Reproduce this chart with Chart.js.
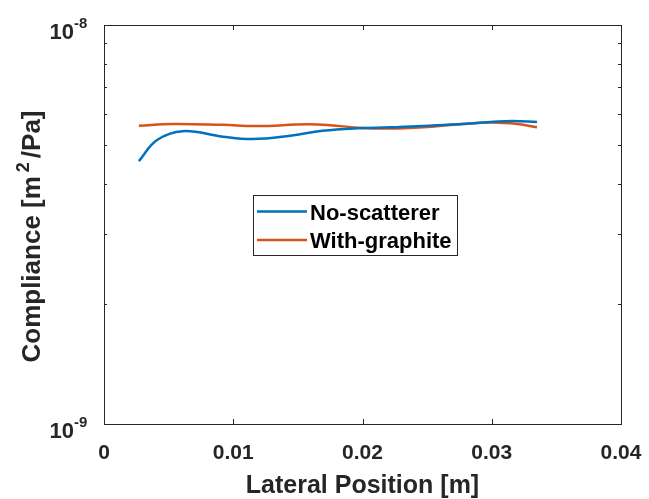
<!DOCTYPE html>
<html>
<head>
<meta charset="utf-8">
<script src="https://cdn.jsdelivr.net/npm/chart.js@4"></script>
<style>
  html, body { margin: 0; padding: 0; background: #fff; }
  #wrap { width: 649px; height: 499px; }
</style>
</head>
<body>
<div id="wrap"><canvas id="chart"></canvas></div>
<script>
// values
const blueX = [0.0027, 0.0041, 0.0061, 0.0092, 0.0115, 0.0144, 0.0169, 0.0196, 0.0221, 0.0247, 0.0273, 0.0299, 0.0316, 0.0335];
const blueY = [4.56e-9, 5.15e-9, 5.42e-9, 5.25e-9, 5.18e-9, 5.28e-9, 5.43e-9, 5.51e-9, 5.54e-9, 5.58e-9, 5.64e-9, 5.71e-9, 5.75e-9, 5.71e-9];
const orangeX = [0.0027, 0.0053, 0.0092, 0.0118, 0.0157, 0.0175, 0.0196, 0.0221, 0.0247, 0.0273, 0.0299, 0.032, 0.0335];
const orangeY = [5.59e-9, 5.65e-9, 5.62e-9, 5.58e-9, 5.64e-9, 5.61e-9, 5.53e-9, 5.50e-9, 5.54e-9, 5.63e-9, 5.70e-9, 5.65e-9, 5.54e-9];
const seriesNames = ['No-scatterer', 'With-graphite'];
const xTicks = [0, 0.01, 0.02, 0.03, 0.04];
const xTickLabels = ['0', '0.01', '0.02', '0.03', '0.04'];
const yExponents = [-9, -8];

const AX = '#262626';
const FONT = '"Liberation Sans", Arial, sans-serif';

function pts(xs, ys) {
  return xs.map((x, i) => ({ x: x, y: ys[i] }));
}

const matlabAxes = {
  id: 'matlabAxes',
  afterDraw(chart) {
    const c = chart.ctx;
    const a = chart.chartArea;
    const xs = chart.scales.x, ys = chart.scales.y;
    c.save();
    c.strokeStyle = AX;
    c.lineWidth = 1;
    c.strokeRect(a.left + 0.5, a.top + 0.5, a.right - a.left, a.bottom - a.top);
    // x ticks, inward, bottom and top
    xTicks.forEach(v => {
      const px = Math.round(xs.getPixelForValue(v)) + 0.5;
      c.beginPath();
      c.moveTo(px, a.bottom); c.lineTo(px, a.bottom - 5);
      c.moveTo(px, a.top); c.lineTo(px, a.top + 5);
      c.stroke();
    });
    // y ticks (log major + minor), inward, left and right
    for (let m = 1; m <= 10; m++) {
      const v = m * 1e-9;
      const py = Math.round(ys.getPixelForValue(v)) + 0.5;
      const len = (m === 1 || m === 10) ? 5 : 3;
      c.beginPath();
      c.moveTo(a.left, py); c.lineTo(a.left + len, py);
      c.moveTo(a.right, py); c.lineTo(a.right - len, py);
      c.stroke();
    }
    c.fillStyle = AX;
    // x tick labels
    c.font = 'bold 21px ' + FONT;
    c.textAlign = 'center';
    c.textBaseline = 'alphabetic';
    xTicks.forEach((v, i) => {
      c.fillText(xTickLabels[i], xs.getPixelForValue(v), a.bottom + 35);
    });
    // x axis title
    c.font = 'bold 25px ' + FONT;
    c.fillText('Lateral Position [m]', (a.left + a.right) / 2, a.bottom + 69);
    // y tick labels 10^n
    yExponents.forEach(e => {
      const py = ys.getPixelForValue(Math.pow(10, e));
      c.font = 'bold 22px ' + FONT;
      c.textAlign = 'right';
      c.textBaseline = 'alphabetic';
      c.fillText('10', 74, py + 13.5);
      c.font = 'bold 15px ' + FONT;
      c.textAlign = 'left';
      c.fillText(String(e), 74, py + 2.5);
    });
    // y axis title with superscript
    c.translate(40, (a.top + a.bottom) / 2 + 12);
    c.rotate(-Math.PI / 2);
    c.textBaseline = 'alphabetic';
    const big = 'bold 26px ' + FONT, small = 'bold 18px ' + FONT;
    const parts = [['Compliance [m', big, 0, 4], ['2', small, -11, 4], ['/Pa]', big, 0, 0]];
    let w = 0;
    parts.forEach(p => { c.font = p[1]; w += c.measureText(p[0]).width + p[3]; });
    let x = -w / 2;
    c.textAlign = 'left';
    parts.forEach(p => { c.font = p[1]; c.fillText(p[0], x, p[2]); x += c.measureText(p[0]).width + p[3]; });
    c.restore();

    // legend box
    c.save();
    const lx = 253, ly = 195, lw = 204, lh = 60;
    c.fillStyle = '#fff';
    c.fillRect(lx, ly, lw, lh);
    c.strokeStyle = AX;
    c.lineWidth = 1;
    c.strokeRect(lx + 0.5, ly + 0.5, lw, lh);
    c.font = 'bold 22px ' + FONT;
    c.textBaseline = 'alphabetic';
    c.textAlign = 'left';
    chart.data.datasets.forEach((ds, i) => {
      const yy = ly + 16.5 + i * 28.5;
      c.strokeStyle = ds.borderColor;
      c.lineWidth = 2.5;
      c.beginPath();
      c.moveTo(lx + 4, yy); c.lineTo(lx + 54, yy);
      c.stroke();
      c.fillStyle = '#000';
      c.fillText(ds.label, lx + 57, yy + 8);
    });
    c.restore();
  }
};

new Chart(document.getElementById('chart'), {
  type: 'line',
  data: {
    datasets: [{
      label: seriesNames[0],
      data: pts(blueX, blueY),
      borderColor: '#0072BD',
      borderWidth: 2.5,
      pointRadius: 0,
      tension: 0.4
    }, {
      label: seriesNames[1],
      data: pts(orangeX, orangeY),
      borderColor: '#D95319',
      borderWidth: 2.5,
      pointRadius: 0,
      tension: 0.4
    }]
  },
  options: {
    responsive: true,
    maintainAspectRatio: false,
    animation: false,
    layout: { padding: { left: 0, right: 28, top: 25, bottom: 0 } },
    plugins: { legend: { display: false }, tooltip: { enabled: false } },
    scales: {
      x: {
        type: 'linear',
        min: 0, max: 0.04,
        afterFit: s => { s.height = 75; },
        grid: { display: false },
        border: { display: false },
        ticks: { display: false }
      },
      y: {
        type: 'logarithmic',
        min: 1e-9, max: 1e-8,
        afterFit: s => { s.width = 104; },
        grid: { display: false },
        border: { display: false },
        ticks: { display: false }
      }
    }
  },
  plugins: [matlabAxes]
});
</script>
</body>
</html>
